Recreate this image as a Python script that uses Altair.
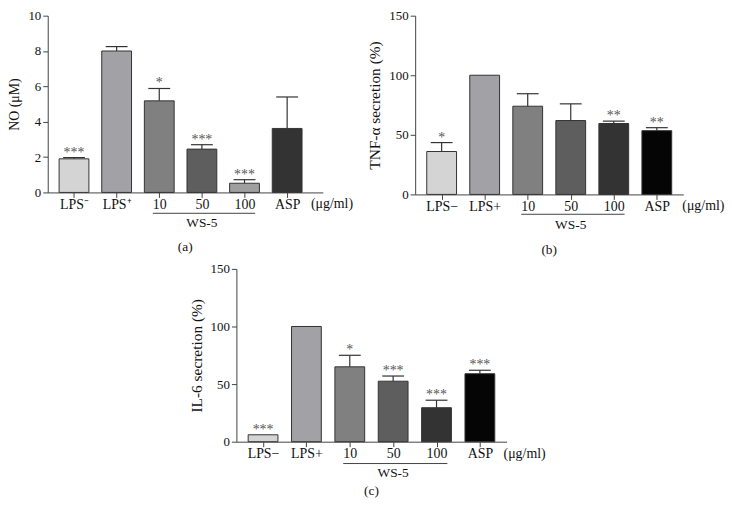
import altair as alt
import pandas as pd

FONT = "Liberation Serif"

labels_a = ["LPS⁻", "LPS⁺", "10", "50", "100", "ASP"]
labels_bc = ["LPS−", "LPS+", "10", "50", "100", "ASP"]

no_values = [1.9, 8.0, 5.18, 2.45, 0.52, 3.62]
no_errors = [0.07, 0.25, 0.7, 0.25, 0.2, 1.78]
no_stars = ["***", "", "*", "***", "***", ""]

tnf_values = [36, 100, 74, 62, 59.5, 53.5]
tnf_errors = [7.5, 0, 10.5, 14, 2, 2.5]
tnf_stars = ["*", "", "", "", "**", "**"]

il6_values = [6, 100, 65, 52.5, 29.5, 59]
il6_errors = [0, 0, 10, 4.5, 6.5, 3]
il6_stars = ["***", "", "*", "***", "***", "***"]

colors_a = ["#d4d4d4", "#a1a1a6", "#808080", "#5e5e5e", "#9f9f9f", "#333333"]
colors_bc = ["#d4d4d4", "#a1a1a6", "#808080", "#5e5e5e", "#333333", "#050505"]

group_label = ["WS-5"]
unit_label = "(μg/ml)"


def panel(labels, values, errors, stars, colors, ymax, yvalues, ytitle,
          tsize, caption, w, h, xmax, ul_y, ws_y, cap_y, unit_dx):
    df = pd.DataFrame({"pos": list(range(1, 7)), "label": labels,
                       "value": values, "err": errors, "star": stars,
                       "color": colors})
    df["top"] = df["value"] + df["err"]
    label_js = "[" + ",".join("'" + l + "'" for l in labels) + "]"
    xs = alt.Scale(domain=[0.5, xmax], nice=False, zero=False)
    xa = alt.Axis(values=[1, 2, 3, 4, 5, 6],
                  labelExpr=label_js + "[datum.value - 1]", title=None,
                  labelFontSize=14, labelPadding=0)
    ys = alt.Scale(domain=[0, ymax], nice=False)
    ya = alt.Axis(values=yvalues, title=ytitle, labelOverlap=False,
                  tickCount=len(yvalues), titleFontSize=tsize)

    def X(f):
        return alt.X(f, scale=xs, axis=xa)

    def Y(f):
        return alt.Y(f, scale=ys, axis=ya)

    base = alt.Chart(df)
    bars = base.mark_bar(size=30, stroke="#333333", strokeWidth=1).encode(
        x=X("pos:Q"), y=Y("value:Q"), color=alt.Color("color:N", scale=None))
    errdf = base.transform_filter("datum.err > 0")
    err = errdf.mark_rule(color="#333333", strokeWidth=1.2).encode(
        x=X("pos:Q"), y=Y("value:Q"), y2="top:Q")
    cap = errdf.mark_rule(color="#333333", strokeWidth=1.2, xOffset=-11,
                          x2Offset=11).encode(x=X("pos:Q"), x2="pos:Q",
                                              y=Y("top:Q"))
    star = base.mark_text(font=FONT, fontSize=14, fill="#555555",
                          baseline="alphabetic", dy=-1).encode(
        x=X("pos:Q"), y=Y("top:Q"), text="star:N")
    gdf = alt.Chart(pd.DataFrame({"g": group_label}))
    ul = gdf.mark_rule(color="#444444", strokeWidth=1).encode(
        x=alt.datum(2.85), x2=alt.datum(5.25), y=alt.value(h + ul_y))
    ws = gdf.mark_text(font=FONT, fontSize=13.5, fill="#111111",
                       baseline="middle").encode(
        x=alt.datum(4), y=alt.value(h + ws_y), text="g:N")
    unit = gdf.mark_text(font=FONT, fontSize=14, fill="#111111",
                         align="left", baseline="middle").encode(
        x=alt.value(w + unit_dx), y=alt.value(h + 12),
        text=alt.value(unit_label))
    capt = gdf.mark_text(font=FONT, fontSize=13.5, fill="#111111",
                         baseline="middle").encode(
        x=alt.value(w / 2), y=alt.value(h + cap_y), text=alt.value(caption))
    return alt.layer(bars, err, cap, star, ul, ws, unit, capt).properties(
        width=w, height=h)


a = panel(labels_a, no_values, no_errors, no_stars, colors_a, 10,
          [0, 2, 4, 6, 8, 10], "NO (μM)", 14, "(a)", 277, 178, 6.72,
          21, 31, 55, -12)
b = panel(labels_bc, tnf_values, tnf_errors, tnf_stars, colors_bc, 150,
          [0, 50, 100, 150], "TNF-α secretion (%)", 15.5, "(b)", 270, 180,
          6.5, 20, 31, 56, -1)
c = panel(labels_bc, il6_values, il6_errors, il6_stars, colors_bc, 150,
          [0, 50, 100, 150], "IL-6 secretion (%)", 15.5, "(c)", 272, 174,
          6.5, 22, 32, 50, -3)

spacer = alt.Chart(pd.DataFrame({"g": [""]})).mark_text(opacity=0).encode(
    text="g:N").properties(width=142, height=10)

chart = alt.vconcat(alt.hconcat(a, b, spacing=14),
                    alt.hconcat(spacer, c, spacing=0),
                    spacing=6).properties(padding=0).configure_view(
    stroke=None).configure_axis(
    grid=False, domainColor="#444444", tickColor="#444444",
    labelColor="#111111", titleColor="#111111", labelFont=FONT,
    titleFont=FONT, labelFontSize=13, titleFontSize=14,
    titleFontWeight="normal", tickSize=5, labelPadding=2, titlePadding=6,
    labelOverlap=False)

chart.save("out.html", embed_options={"renderer": "svg", "actions": False})
